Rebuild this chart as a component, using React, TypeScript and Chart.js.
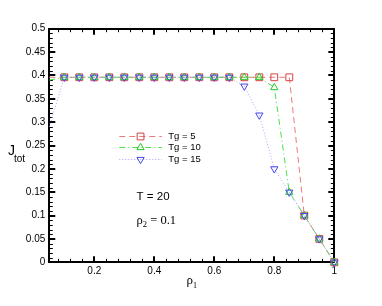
import React, { useEffect, useRef } from "react";
import { Chart, registerables } from "chart.js";

Chart.register(...registerables);

const xValues = [0.05, 0.1, 0.15, 0.2, 0.25, 0.3, 0.35, 0.4, 0.45, 0.5, 0.55, 0.6, 0.65, 0.7, 0.75, 0.8, 0.85, 0.9, 0.95, 1.0];
const tg5Values = [0.396, 0.396, 0.396, 0.396, 0.396, 0.396, 0.396, 0.396, 0.396, 0.396, 0.396, 0.396, 0.396, 0.396, 0.396, 0.396, 0.396, 0.1, 0.05, 0.0];
const tg10Values = [0.39, 0.396, 0.396, 0.396, 0.396, 0.396, 0.396, 0.396, 0.396, 0.396, 0.396, 0.396, 0.396, 0.396, 0.396, 0.374, 0.15, 0.1, 0.05, 0.0];
const tg15Values = [0.29, 0.396, 0.396, 0.396, 0.396, 0.396, 0.396, 0.396, 0.396, 0.396, 0.396, 0.396, 0.396, 0.377, 0.315, 0.2, 0.15, 0.1, 0.05, 0.0];
const seriesLabels = ["Tg = 5", "Tg = 10", "Tg = 15"];
const xTickValues = [0.2, 0.4, 0.6, 0.8, 1];
const yTickValues = [0, 0.05, 0.1, 0.15, 0.2, 0.25, 0.3, 0.35, 0.4, 0.45, 0.5];
const xMinorStep = 0.04;
const yMinorStep = 0.01;

const SANS = "'Liberation Sans', Arial, sans-serif";
const SERIF = "'Liberation Serif', 'Times New Roman', serif";

const styles = [
  { line: "rgb(236,120,120)", point: "rgb(214,64,64)", dash: [6, 4], pointStyle: "rect", radius: 4.8, rotation: 0 },
  { line: "rgb(70,225,70)", point: "rgb(40,200,40)", dash: [6, 3, 1, 3], pointStyle: "triangle", radius: 4.2, rotation: 0 },
  { line: "rgb(165,165,255)", point: "rgb(70,70,235)", dash: [1, 2], pointStyle: "triangle", radius: 4.2, rotation: 180 },
];

function drawMarker(ctx: CanvasRenderingContext2D, s: any, x: number, y: number) {
  ctx.save();
  ctx.strokeStyle = s.point;
  ctx.lineWidth = 1;
  ctx.setLineDash([]);
  ctx.beginPath();
  if (s.pointStyle === "rect") {
    const h = Math.SQRT1_2 * s.radius;
    ctx.rect(x - h, y - h, 2 * h, 2 * h);
  } else {
    const r = s.radius;
    const dir = s.rotation === 180 ? -1 : 1;
    ctx.moveTo(x, y - dir * r);
    ctx.lineTo(x + r * Math.sin(Math.PI / 3), y + dir * r * 0.5);
    ctx.lineTo(x - r * Math.sin(Math.PI / 3), y + dir * r * 0.5);
    ctx.closePath();
  }
  ctx.stroke();
  ctx.restore();
}

const framePlugin = {
  id: "frame",
  beforeDatasetsDraw(chart: any) {
    const { ctx, chartArea: a, scales } = chart;
    const xs = scales.x;
    const ys = scales.y;
    ctx.save();
    ctx.strokeStyle = "#000";
    ctx.lineWidth = 1;
    for (let k = 0; k <= 50; k++) {
      if (k % 5 === 0) continue;
      const py = Math.round(ys.getPixelForValue(k * yMinorStep)) + 0.5;
      ctx.beginPath();
      ctx.moveTo(a.left, py); ctx.lineTo(a.left + 3.5, py);
      ctx.moveTo(a.right, py); ctx.lineTo(a.right - 3.5, py);
      ctx.stroke();
    }
    for (let k = 2; k <= 25; k++) {
      if (k % 5 === 0) continue;
      const px = Math.round(xs.getPixelForValue(k * xMinorStep)) + 0.5;
      ctx.beginPath();
      ctx.moveTo(px, a.bottom); ctx.lineTo(px, a.bottom - 3.5);
      ctx.moveTo(px, a.top); ctx.lineTo(px, a.top + 3.5);
      ctx.stroke();
    }
    ctx.lineWidth = 2;
    yTickValues.forEach((v) => {
      const py = Math.round(ys.getPixelForValue(v));
      ctx.beginPath();
      ctx.moveTo(a.left, py); ctx.lineTo(a.left + 6, py);
      ctx.moveTo(a.right, py); ctx.lineTo(a.right - 6, py);
      ctx.stroke();
    });
    xTickValues.forEach((v) => {
      const px = Math.round(xs.getPixelForValue(v));
      ctx.beginPath();
      ctx.moveTo(px, a.bottom); ctx.lineTo(px, a.bottom - 6);
      ctx.moveTo(px, a.top); ctx.lineTo(px, a.top + 6);
      ctx.stroke();
    });
    ctx.lineWidth = 2;
    ctx.strokeRect(Math.round(a.left), Math.round(a.top), Math.round(a.right) - Math.round(a.left), Math.round(a.bottom) - Math.round(a.top));
    ctx.restore();
  },
  afterDraw(chart: any) {
    const { ctx, chartArea: a, scales } = chart;
    const xs = scales.x;
    const ys = scales.y;
    ctx.save();
    ctx.fillStyle = "#000";
    ctx.textBaseline = "alphabetic";
    ctx.textAlign = "left";
    ctx.font = `14px ${SANS}`;
    ctx.fillText("J", 8, 155);
    ctx.font = `10px ${SANS}`;
    ctx.fillText("tot", 14, 162);
    ctx.font = `13px ${SERIF}`;
    ctx.fillText("\u03C1", 186.5, 284);
    const rw = ctx.measureText("\u03C1").width;
    ctx.font = `8px ${SERIF}`;
    ctx.fillText("1", 186.5 + rw, 288);

    const legendLeft = a.left + 70;
    const legendRight = a.left + 112.5;
    const legendYs = [136, 147, 159];
    chart.data.datasets.forEach((ds: any, i: number) => {
      const s = styles[i];
      const y = legendYs[i] + 0.5;
      ctx.save();
      ctx.strokeStyle = s.line;
      ctx.lineWidth = 1;
      ctx.setLineDash(s.dash);
      ctx.beginPath();
      ctx.moveTo(legendLeft, y); ctx.lineTo(legendRight, y);
      ctx.stroke();
      ctx.restore();
      drawMarker(ctx, s, (legendLeft + legendRight) / 2, y);
      ctx.font = `9.5px ${SANS}`;
      ctx.textBaseline = "middle";
      ctx.fillStyle = "#000";
      ctx.fillText(ds.label, legendRight + 6.5, y);
    });

    ctx.textBaseline = "alphabetic";
    const ax = xs.getPixelForValue(0.341);
    ctx.font = `11.5px ${SANS}`;
    ctx.fillText("T = 20", ax, ys.getPixelForValue(0.133));
    const by = ys.getPixelForValue(0.083);
    ctx.font = `12.5px ${SERIF}`;
    ctx.fillText("\u03C1", ax, by);
    const w1 = ctx.measureText("\u03C1").width;
    ctx.font = `8.5px ${SERIF}`;
    ctx.fillText("2", ax + w1, by + 3);
    const w2 = ctx.measureText("2").width;
    ctx.font = `12.5px ${SERIF}`;
    ctx.fillText(" = 0.1", ax + w1 + w2, by);
    ctx.restore();
  },
};

export default function App() {
  const ref = useRef<HTMLCanvasElement | null>(null);
  useEffect(() => {
    if (!ref.current) return;
    const series = [tg5Values, tg10Values, tg15Values];
    const chart = new Chart(ref.current, {
      type: "line",
      data: {
        datasets: series.map((vals, i) => ({
          label: seriesLabels[i],
          data: xValues.map((x, j) => ({ x, y: vals[j] })),
          borderColor: styles[i].line,
          borderWidth: 1,
          borderDash: styles[i].dash,
          pointStyle: styles[i].pointStyle as any,
          pointRotation: styles[i].rotation,
          pointRadius: (c: any) => (c.dataIndex === 0 ? 0 : styles[i].radius),
          pointBorderColor: styles[i].point,
          pointBackgroundColor: "rgba(0,0,0,0)",
          pointBorderWidth: 1,
          tension: 0,
          clip: false as any,
          order: 2 - i,
        })),
      },
      options: {
        animation: false,
        responsive: false,
        maintainAspectRatio: false,
        layout: { padding: { top: 28.7, right: 47.7, left: 0, bottom: 0 } },
        plugins: { legend: { display: false }, tooltip: { enabled: false } },
        scales: {
          x: {
            type: "linear",
            min: 0.05,
            max: 1,
            grid: { display: false, drawTicks: false },
            border: { display: false },
            afterBuildTicks: (s: any) => { s.ticks = xTickValues.map((v) => ({ value: v })); },
            afterFit: (s: any) => { s.height = 43.7; },
            ticks: {
              color: "#000",
              font: { family: SANS, size: 10 },
              padding: 3,
              maxRotation: 0,
              autoSkip: false,
              callback: (v: any) => String(parseFloat(Number(v).toFixed(2))),
            },
          },
          y: {
            type: "linear",
            min: 0,
            max: 0.5,
            grid: { display: false, drawTicks: false },
            border: { display: false },
            afterBuildTicks: (s: any) => { s.ticks = yTickValues.map((v) => ({ value: v })); },
            afterFit: (s: any) => { s.width = 49.3; },
            ticks: {
              color: "#000",
              font: { family: SANS, size: 10 },
              padding: 4,
              autoSkip: false,
              callback: (v: any) => String(parseFloat(Number(v).toFixed(2))),
            },
          },
        },
      },
      plugins: [framePlugin],
    });
    return () => chart.destroy();
  }, []);
  return (
    <div style={{ position: "fixed", left: 0, top: 0, width: 382, height: 306, background: "#fff" }}>
      <canvas ref={ref} width={382} height={306} style={{ width: 382, height: 306, display: "block" }} />
    </div>
  );
}
